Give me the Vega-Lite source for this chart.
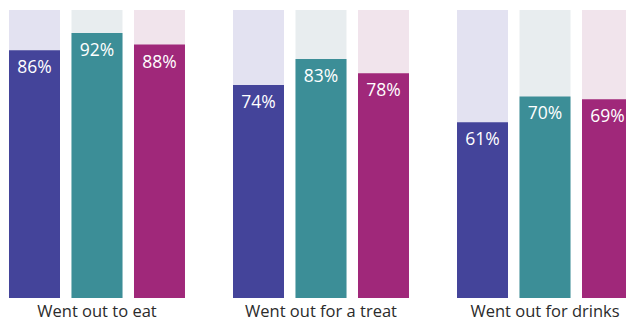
{
  "$schema": "https://vega.github.io/schema/vega-lite/v6.json",
  "width": 642,
  "height": 288,
  "padding": {"left": 0, "top": 10, "right": 0, "bottom": 0},
  "background": "#ffffff",
  "config": {"view": {"stroke": null}},
  "data": {"values": [
    {"activity": "Went out to eat", "series": "A", "value": 86},
    {"activity": "Went out to eat", "series": "B", "value": 92},
    {"activity": "Went out to eat", "series": "C", "value": 88},
    {"activity": "Went out for a treat", "series": "A", "value": 74},
    {"activity": "Went out for a treat", "series": "B", "value": 83},
    {"activity": "Went out for a treat", "series": "C", "value": 78},
    {"activity": "Went out for drinks", "series": "A", "value": 61},
    {"activity": "Went out for drinks", "series": "B", "value": 70},
    {"activity": "Went out for drinks", "series": "C", "value": 69}
  ]},
  "transform": [{"calculate": "datum.value + '%'", "as": "label"}],
  "encoding": {
    "x": {"field": "activity", "type": "nominal", "sort": null,
      "scale": {"paddingInner": 0.134, "paddingOuter": 0},
      "axis": {"title": null, "labelAngle": 0, "domain": false, "ticks": false, "labelPadding": 18,
        "labelBaseline": "alphabetic",
        "labelFontSize": 16.5, "labelFont": "Open Sans", "labelColor": "#2b2b2b"}},
    "xOffset": {"field": "series", "type": "nominal", "scale": {"paddingInner": 0.184, "paddingOuter": 0.144}}
  },
  "layer": [
    {
      "mark": {"type": "bar"},
      "encoding": {
        "y": {"datum": 100, "type": "quantitative", "scale": {"domain": [0, 100]}, "axis": null},
        "color": {"field": "series", "type": "nominal", "legend": null,
          "scale": {"domain": ["A", "B", "C"], "range": ["#e3e2f1", "#e8edef", "#f1e4ec"]}}
      }
    },
    {
      "mark": {"type": "bar"},
      "encoding": {
        "y": {"field": "value", "type": "quantitative", "scale": {"domain": [0, 100]}, "axis": null},
        "color": {"field": "series", "type": "nominal", "legend": null,
          "scale": {"domain": ["A", "B", "C"], "range": ["#44449a", "#3c8e97", "#a0287a"]}}
      }
    },
    {
      "mark": {"type": "text", "color": "#ffffff", "fontSize": 17.5, "font": "Open Sans", "baseline": "middle", "dy": 18},
      "encoding": {
        "y": {"field": "value", "type": "quantitative"},
        "text": {"field": "label"}
      }
    }
  ],
  "resolve": {"scale": {"color": "independent"}}
}
